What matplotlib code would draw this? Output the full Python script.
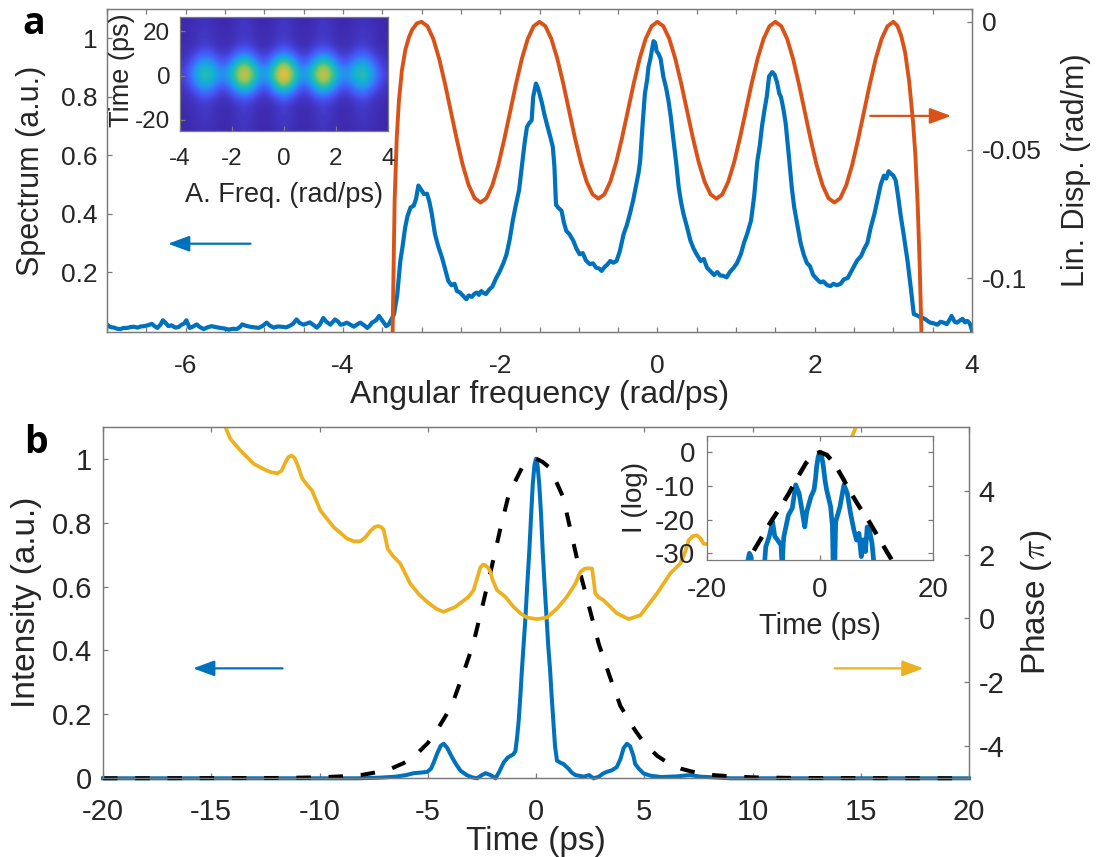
import numpy as np
import matplotlib
matplotlib.use('Agg')
import matplotlib.pyplot as plt
from matplotlib.colors import LinearSegmentedColormap
from matplotlib.ticker import MultipleLocator

plt.rcParams['font.family'] = ['Liberation Sans', 'DejaVu Sans']
plt.rcParams['axes.unicode_minus'] = False
plt.rcParams['mathtext.fontset'] = 'cm'

BLUE = '#0072BD'
RED = '#D95319'
YELLOW = '#EDB120'
SPINE = '#7a7a7a'
TXT = '#262626'

# ---- panel a: measured spectrum (a.u.) vs angular frequency (rad/ps)
spec_freq = [
    -7.00, -6.96, -6.91, -6.87, -6.83, -6.79, -6.74, -6.70, -6.66, -6.61,
    -6.57, -6.53, -6.48, -6.43, -6.40, -6.36, -6.32, -6.29, -6.26, -6.22,
    -6.18, -6.13, -6.09, -6.05, -6.02, -5.99, -5.95, -5.91, -5.86, -5.82,
    -5.77, -5.72, -5.67, -5.62, -5.56, -5.51, -5.45, -5.40, -5.35, -5.31,
    -5.28, -5.23, -5.18, -5.12, -5.07, -5.02, -4.97, -4.93, -4.88, -4.83,
    -4.78, -4.72, -4.67, -4.63, -4.59, -4.55, -4.50, -4.46, -4.42, -4.37,
    -4.33, -4.29, -4.25, -4.21, -4.16, -4.13, -4.10, -4.06, -4.03, -3.99,
    -3.95, -3.90, -3.86, -3.82, -3.78, -3.73, -3.69, -3.66, -3.63, -3.58,
    -3.54, -3.51, -3.48, -3.45, -3.42, -3.38, -3.35,
    -3.31, -3.27, -3.24, -3.21, -3.18, -3.14, -3.10, -3.07, -3.04, -3.00,
    -2.97, -2.93, -2.90, -2.87, -2.83, -2.79, -2.74, -2.70, -2.66, -2.62,
    -2.58, -2.55, -2.51, -2.47, -2.43, -2.40, -2.36, -2.33, -2.30, -2.27,
    -2.24, -2.21, -2.18, -2.14, -2.10, -2.05, -2.01, -1.96, -1.92, -1.88,
    -1.84, -1.80, -1.76, -1.72, -1.69, -1.66, -1.63, -1.60, -1.58, -1.545,
    -1.52, -1.50, -1.47, -1.44, -1.40, -1.36, -1.33, -1.31, -1.29, -1.26,
    -1.22, -1.19, -1.16, -1.12, -1.07, -1.03, -0.99, -0.95, -0.91, -0.86,
    -0.82, -0.78, -0.74, -0.71, -0.67, -0.64, -0.60, -0.56, -0.52, -0.48,
    -0.43, -0.39, -0.35, -0.31, -0.27, -0.24, -0.22, -0.19, -0.16, -0.13,
    -0.115, -0.09, -0.07, -0.05, -0.03, -0.01, 0.013, 0.04, 0.076, 0.11,
    0.14, 0.17, 0.20, 0.24, 0.27, 0.30, 0.33, 0.37, 0.42, 0.46,
    0.50, 0.55, 0.59, 0.63, 0.67, 0.72, 0.76, 0.80, 0.84, 0.88,
    0.92, 0.97, 1.01, 1.06, 1.10, 1.14, 1.19, 1.23, 1.27, 1.30,
    1.33, 1.36, 1.39, 1.42, 1.46, 1.49, 1.52, 1.55, 1.57, 1.60,
    1.63, 1.67, 1.71, 1.74, 1.78, 1.82, 1.86, 1.90, 1.94, 1.98,
    2.03, 2.07, 2.11, 2.16, 2.20, 2.24, 2.28, 2.33, 2.37, 2.42,
    2.46, 2.50, 2.54, 2.59, 2.63, 2.67, 2.71, 2.76, 2.80, 2.84,
    2.88, 2.91, 2.94, 2.97, 3.00, 3.03, 3.06, 3.09, 3.13, 3.18,
    3.22, 3.26, 3.30, 3.35, 3.40, 3.44, 3.47, 3.51, 3.56, 3.60,
    3.64, 3.68, 3.71, 3.74, 3.78, 3.81, 3.85, 3.88, 3.91, 3.94,
    3.97, 3.99, 4.00]
spec_val = [
    0.021, 0.012, 0.010, 0.006, 0.005, 0.009, 0.009, 0.012, 0.013, 0.010,
    0.014, 0.015, 0.018, 0.023, 0.016, 0.009, 0.020, 0.035, 0.028, 0.015,
    0.018, 0.010, 0.012, 0.020, 0.024, 0.035, 0.009, 0.013, 0.021, 0.012,
    0.005, 0.011, 0.015, 0.012, 0.009, 0.007, 0.003, 0.006, 0.005, 0.012,
    0.021, 0.016, 0.013, 0.011, 0.009, 0.016, 0.027, 0.017, 0.010, 0.014,
    0.013, 0.011, 0.017, 0.024, 0.038, 0.026, 0.020, 0.024, 0.028, 0.018,
    0.010, 0.022, 0.043, 0.030, 0.020, 0.029, 0.038, 0.030, 0.020, 0.022,
    0.027, 0.019, 0.013, 0.021, 0.027, 0.018, 0.009, 0.016, 0.027, 0.035,
    0.050, 0.038, 0.027, 0.015, 0.020, 0.040, 0.056,
    0.12, 0.238, 0.29, 0.35, 0.39, 0.421, 0.427, 0.45, 0.496, 0.48,
    0.467, 0.468, 0.44, 0.40, 0.331, 0.29, 0.25, 0.21, 0.17, 0.155,
    0.16, 0.135, 0.13, 0.118, 0.107, 0.12, 0.115, 0.125, 0.13, 0.122,
    0.135, 0.128, 0.125, 0.14, 0.15, 0.18, 0.20, 0.23, 0.26, 0.31,
    0.376, 0.43, 0.48, 0.57, 0.64, 0.696, 0.71, 0.719, 0.80, 0.845,
    0.83, 0.81, 0.78, 0.742, 0.70, 0.66, 0.627, 0.56, 0.43, 0.42,
    0.41, 0.37, 0.341, 0.33, 0.307, 0.28, 0.261, 0.265, 0.24, 0.227,
    0.23, 0.215, 0.212, 0.204, 0.218, 0.225, 0.238, 0.232, 0.238, 0.27,
    0.33, 0.36, 0.40, 0.444, 0.50, 0.54, 0.58, 0.70, 0.81, 0.86,
    0.90, 0.93, 0.959, 0.99, 0.985, 0.955, 0.947, 0.93, 0.867, 0.83,
    0.787, 0.73, 0.66, 0.57, 0.49, 0.44, 0.40, 0.36, 0.307, 0.28,
    0.26, 0.238, 0.245, 0.215, 0.204, 0.19, 0.20, 0.188, 0.187, 0.182,
    0.20, 0.215, 0.23, 0.261, 0.30, 0.33, 0.376, 0.46, 0.58, 0.63,
    0.70, 0.753, 0.80, 0.87, 0.884, 0.875, 0.85, 0.81, 0.80, 0.76,
    0.71, 0.60, 0.484, 0.42, 0.36, 0.30, 0.26, 0.231, 0.22, 0.19,
    0.175, 0.165, 0.168, 0.155, 0.152, 0.16, 0.155, 0.16, 0.175, 0.18,
    0.20, 0.22, 0.24, 0.255, 0.28, 0.30, 0.35, 0.40, 0.45, 0.50,
    0.53, 0.52, 0.545, 0.536, 0.53, 0.513, 0.46, 0.399, 0.33, 0.239,
    0.15, 0.056, 0.052, 0.045, 0.040, 0.032, 0.027, 0.025, 0.020, 0.030,
    0.027, 0.022, 0.035, 0.050, 0.030, 0.027, 0.035, 0.040, 0.028, 0.033,
    0.025, 0.010, 0.0]

# ---- panel a: linear dispersion (rad/m)
disp_freq = [
    -3.37, -3.355, -3.342, -3.315, -3.287, -3.25, -3.206, -3.16, -3.12, -3.06,
    -3.0, -2.925, -2.85, -2.775, -2.7, -2.625, -2.55, -2.475, -2.4, -2.325,
    -2.25, -2.175, -2.1, -2.025, -1.95, -1.875, -1.8, -1.725, -1.65, -1.575,
    -1.5, -1.425, -1.35, -1.275, -1.2, -1.125, -1.05, -0.975, -0.9, -0.825,
    -0.75, -0.675, -0.6, -0.525, -0.45, -0.375, -0.3, -0.225, -0.15, -0.075,
    0.0, 0.075, 0.15, 0.225, 0.3, 0.375, 0.45, 0.525, 0.6, 0.675,
    0.75, 0.825, 0.9, 0.975, 1.05, 1.125, 1.2, 1.275, 1.35, 1.425,
    1.5, 1.575, 1.65, 1.725, 1.8, 1.875, 1.95, 2.025, 2.1, 2.175,
    2.25, 2.325, 2.4, 2.475, 2.55, 2.625, 2.7, 2.775, 2.85, 2.925,
    3.0, 3.05, 3.1, 3.15, 3.2, 3.25, 3.28, 3.31, 3.335, 3.36]
disp_val = [
    -0.125, -0.095, -0.0695, -0.045, -0.0305, -0.019, -0.0109, -0.006, -0.0031, -0.0006,
    0.0, -0.0017, -0.0067, -0.0145, -0.0244, -0.0353, -0.0461, -0.0560, -0.0638, -0.0688,
    -0.0705, -0.0688, -0.0638, -0.0560, -0.0461, -0.0353, -0.0244, -0.0145, -0.0067, -0.0017,
    0.0, -0.0017, -0.0066, -0.0142, -0.0238, -0.0345, -0.0452, -0.0548, -0.0624, -0.0673,
    -0.069, -0.0673, -0.0624, -0.0548, -0.0452, -0.0345, -0.0238, -0.0142, -0.0066, -0.0017,
    0.0, -0.0017, -0.0066, -0.0142, -0.0238, -0.0345, -0.0452, -0.0548, -0.0624, -0.0673,
    -0.069, -0.0673, -0.0624, -0.0548, -0.0452, -0.0345, -0.0238, -0.0142, -0.0066, -0.0017,
    0.0, -0.0017, -0.0067, -0.0145, -0.0244, -0.0353, -0.0461, -0.0560, -0.0638, -0.0688,
    -0.0705, -0.0688, -0.0638, -0.0560, -0.0461, -0.0353, -0.0244, -0.0145, -0.0067, -0.0017,
    0.0, -0.0015, -0.0055, -0.012, -0.023, -0.039, -0.052, -0.072, -0.095, -0.125]

# ---- panel a inset: spectrogram, rows = time 24.5 ... -23 ps, cols = freq -3.8 ... 3.8
spectrogram = [
    [.01, .02, .04, .02, .01, .02, .05, .02, .01, .02, .05, .02, .01, .02, .05, .02, .01, .02, .04, .02, .01],
    [.01, .03, .05, .03, .01, .03, .06, .03, .01, .03, .06, .03, .01, .03, .06, .03, .01, .03, .05, .03, .01],
    [.01, .03, .06, .03, .01, .03, .07, .03, .01, .03, .07, .03, .01, .03, .07, .03, .01, .03, .06, .03, .01],
    [.02, .04, .09, .05, .02, .06, .12, .06, .02, .06, .13, .06, .02, .06, .12, .06, .02, .05, .09, .04, .02],
    [.03, .10, .24, .13, .05, .18, .34, .18, .05, .19, .37, .19, .05, .18, .34, .18, .05, .13, .24, .10, .03],
    [.05, .22, .44, .29, .13, .40, .70, .40, .13, .42, .78, .42, .13, .40, .70, .40, .13, .29, .44, .22, .05],
    [.08, .31, .55, .40, .25, .55, .84, .55, .25, .58, .92, .58, .25, .55, .84, .55, .25, .40, .55, .31, .08],
    [.05, .22, .44, .29, .13, .41, .72, .41, .13, .43, .80, .43, .13, .41, .72, .41, .13, .29, .44, .22, .05],
    [.03, .10, .24, .13, .05, .18, .35, .18, .05, .19, .39, .19, .05, .18, .35, .18, .05, .13, .24, .10, .03],
    [.02, .04, .09, .05, .02, .06, .12, .06, .02, .06, .13, .06, .02, .06, .12, .06, .02, .05, .09, .04, .02],
    [.01, .03, .06, .03, .01, .03, .07, .03, .01, .03, .07, .03, .01, .03, .07, .03, .01, .03, .06, .03, .01],
    [.01, .03, .05, .03, .01, .03, .06, .03, .01, .03, .06, .03, .01, .03, .06, .03, .01, .03, .05, .03, .01],
    [.01, .02, .04, .02, .01, .02, .05, .02, .01, .02, .05, .02, .01, .02, .05, .02, .01, .02, .04, .02, .01],
]

# ---- panel b: temporal intensity, transform-limited envelope, phase
int_time = [-20, -10, -8.2, -7.2, -6.5, -6.0, -5.65, -5.3, -5.03, -4.85,
            -4.72, -4.55, -4.4, -4.26, -4.1, -3.95, -3.88, -3.7, -3.49, -3.2,
            -2.95, -2.72, -2.5, -2.33, -2.1, -1.87, -1.7, -1.49, -1.3, -1.18,
            -1.05, -0.95, -0.87, -0.80, -0.72, -0.65, -0.57, -0.49, -0.40, -0.31,
            -0.22, -0.15, -0.07, 0, 0.07, 0.15, 0.23, 0.31, 0.40, 0.49,
            0.57, 0.65, 0.72, 0.80, 0.88, 0.97, 1.1, 1.28, 1.5, 1.65,
            1.82, 2.0, 2.2, 2.45, 2.66, 2.9, 3.1, 3.27, 3.5, 3.73,
            3.9, 4.05, 4.2, 4.35, 4.5, 4.58, 4.75, 4.97, 5.3, 5.8,
            6.5, 7.1, 7.6, 8.2, 9, 20]
int_val = [0, 0, 0, 0.002, 0.005, 0.01, 0.016, 0.018, 0.02, 0.03,
           0.05, 0.08, 0.102, 0.108, 0.095, 0.075, 0.066, 0.045, 0.024, 0.01,
           0.003, 0.0, 0.01, 0.016, 0.01, 0.0, 0.02, 0.05, 0.065, 0.07,
           0.075, 0.085, 0.13, 0.18, 0.26, 0.34, 0.42, 0.5, 0.61, 0.71,
           0.83, 0.92, 0.98, 1.0, 0.98, 0.92, 0.83, 0.71, 0.6, 0.5,
           0.41, 0.34, 0.26, 0.18, 0.1, 0.055, 0.05, 0.044, 0.03, 0.018,
           0.01, 0.008, 0.005, 0.01, 0.0, 0.005, 0.015, 0.02, 0.025, 0.035,
           0.06, 0.095, 0.108, 0.1, 0.07, 0.045, 0.03, 0.015, 0.008, 0.004,
           0.006, 0.01, 0.005, 0.003, 0, 0]

env_time = [-20, -12, -10, -9, -8, -7.2, -6.7, -6.1, -5.6, -5.0,
            -4.55, -3.9, -3.4, -2.9, -2.4, -2.05, -1.65, -1.25, -0.66, -0.3,
            0,
            0.3, 0.66, 1.25, 1.65, 2.05, 2.4, 2.9, 3.4, 3.9, 4.55,
            5.0, 5.6, 6.1, 6.7, 7.2, 8.0, 9.0, 10, 12, 20]
env_val = [0, 0.001, 0.003, 0.006, 0.011, 0.021, 0.03, 0.048, 0.07, 0.11,
           0.153, 0.226, 0.32, 0.42, 0.56, 0.66, 0.78, 0.89, 0.97, 0.99,
           1.0,
           0.99, 0.97, 0.88, 0.76, 0.64, 0.55, 0.42, 0.32, 0.226, 0.153,
           0.11, 0.07, 0.048, 0.03, 0.021, 0.011, 0.006, 0.003, 0.001, 0]

ph_time = [-14.5, -14.35, -14.12, -13.66, -13.04, -12.6, -12.27, -11.95, -11.75, -11.6,
           -11.45, -11.3, -11.15, -11.0, -10.81, -10.6, -10.35, -9.96, -9.35, -8.73,
           -8.4, -8.1, -7.85, -7.65, -7.45, -7.3, -7.15, -7.04, -6.95, -6.85,
           -6.6, -6.27, -5.81, -5.4, -5.03, -4.6, -4.27, -3.73, -3.11, -2.88,
           -2.7, -2.57, -2.45, -2.35, -2.2, -2.11, -2.0, -1.80, -1.42, -1.03,
           -0.7, -0.42, 0.05, 0.51, 0.97, 1.43, 1.82, 2.05, 2.25, 2.45,
           2.59, 2.66, 2.74, 2.9, 3.12, 3.74, 4.28, 4.82, 5.59, 6.2,
           6.67, 6.9, 7.05, 7.25, 7.44, 7.6, 7.74, 8.2, 8.8, 9.4,
           10.0, 10.4, 10.9, 11.3, 11.6, 12.0, 13.0, 14.2, 14.6, 14.85,
           15.0]
ph_val = [6.5, 6.0, 5.62, 5.26, 4.84, 4.68, 4.58, 4.54, 4.62, 4.85,
          5.04, 5.1, 5.02, 4.78, 4.4, 4.2, 4.01, 3.38, 2.86, 2.50,
          2.41, 2.42, 2.56, 2.74, 2.86, 2.89, 2.86, 2.78, 2.5, 2.18,
          1.95, 1.72, 1.09, 0.75, 0.52, 0.3, 0.21, 0.36, 0.68, 0.89,
          1.3, 1.6, 1.68, 1.67, 1.58, 1.46, 1.2, 0.885, 0.68, 0.36,
          0.15, 0.03, -0.02, 0.03, 0.31, 0.68, 1.09, 1.46, 1.56, 1.57,
          1.56, 1.2, 0.78, 0.66, 0.57, 0.16, -0.02, 0.10, 0.78, 1.41,
          1.72, 2.1, 2.45, 2.58, 2.60, 2.5, 2.34, 2.3, 2.5, 2.9,
          3.4, 4.0, 4.4, 5.1, 4.9, 4.6, 4.9, 5.3, 5.7, 6.1,
          6.5]

# ---- panel b inset: intensity in log scale (dB)
logi_time = [-13.2, -12.8, -12.5, -12.2, -11.9, -10.2, -9.9, -9.6, -9.0, -8.4,
             -8.0, -7.5, -6.9, -6.7, -6.5, -6.4, -5.6, -4.9, -4.3, -3.7,
             -3.1, -2.7, -2.35, -1.6, -1.06, -0.8, -0.59, -0.3, 0, 0.3,
             0.59, 0.9, 1.18, 1.88, 2.2, 2.4, 2.6, 2.77, 3.53, 4.24,
             4.83, 5.4, 6.0, 6.47, 6.9, 7.3, 7.65, 8.05, 8.35, 8.65,
             9.2, 9.6, 9.9]
logi_val = [-40, -32.5, -30, -31, -40, -40, -35, -28.1, -25.1, -20.7,
            -25, -26.1, -27.6, -34, -27, -25.1, -18.7, -16.6, -9.7, -12.2,
            -18.1, -22.2, -17.7, -13.2, -11.2, -8, -4.2, -1.2, 0, -1.2,
            -4.2, -8.5, -11.2, -16.2, -22, -40, -35, -20.7, -16.2, -9.7,
            -12.2, -18.1, -23.1, -26.1, -24.1, -31, -26, -29.5, -22.2, -22.2,
            -27, -34, -40]
loge_time = [-14, -13, -11.85, -10.3, -8.8, -7, -5.5, -4, -2.5, -1.2, 0,
             1.2, 2.5, 4, 5.5, 7, 8.8, 10.3, 11.85, 13, 14]
loge_val = [-37, -32.8, -29.6, -25.2, -20.9, -16.3, -12.2, -7.6, -3.3, -0.8, 0,
            -0.8, -3.3, -7.6, -12.2, -16.3, -20.9, -25.2, -29.6, -32.8, -37]

# approximate MATLAB parula
parula = LinearSegmentedColormap.from_list('parula', [
    (0.000, (0.2422, 0.1504, 0.6603)),
    (0.125, (0.2810, 0.3228, 0.9579)),
    (0.250, (0.1786, 0.5289, 0.9682)),
    (0.375, (0.0689, 0.6948, 0.8394)),
    (0.500, (0.1900, 0.7500, 0.6300)),
    (0.625, (0.5500, 0.7800, 0.3500)),
    (0.750, (0.8700, 0.7400, 0.2600)),
    (0.850, (0.9900, 0.7400, 0.2400)),
    (1.000, (0.9769, 0.9839, 0.0805))])


def style(ax, size):
    for s in ax.spines.values():
        s.set_color(SPINE)
        s.set_linewidth(0.9)
    ax.tick_params(which='both', direction='in', color=SPINE, width=0.9,
                   length=3.6, labelsize=size, labelcolor=TXT)


W, H = 1097, 857
fig = plt.figure(figsize=(W / 100, H / 100), dpi=100)

# ================= panel a =================
axa = fig.add_axes([107 / W, 1 - 332 / H, 865 / W, 323 / H])
axa2 = axa.twinx()
axa.plot(spec_freq, spec_val, color=BLUE, lw=3.0)
axa2.plot(disp_freq, disp_val, color=RED, lw=2.8)

axa.set_xlim(-7, 4)
axa.set_ylim(-0.005, 1.1)
axa2.set_ylim(-0.121, 0.005)
axa.set_xticks([-6, -4, -2, 0, 2, 4])
axa.set_xticklabels(['-6', '-4', '-2', '0', '2', '4'])
axa.xaxis.set_minor_locator(MultipleLocator(0.5))
axa.set_yticks([0.2, 0.4, 0.6, 0.8, 1.0])
axa.set_yticklabels(['0.2', '0.4', '0.6', '0.8', '1'])
axa2.set_yticks([-0.1, -0.05, 0])
axa2.set_yticklabels(['-0.1', '-0.05', '0'])
style(axa, 19)
style(axa2, 19)
axa.tick_params(axis='x', which='both', top=True, pad=16)
axa.tick_params(axis='y', which='both', right=False, pad=7)
axa2.tick_params(axis='y', which='both', left=False, right=True, pad=7)

axa.set_xlabel('Angular frequency (rad/ps)', fontsize=23, color=TXT, va='top')
axa.xaxis.set_label_coords(0.5, -0.150)
axa.set_ylabel('Spectrum (a.u.)', fontsize=22, color=TXT, va='center')
axa.yaxis.set_label_coords(-0.088, 0.5)
axa2.set_ylabel('Lin. Disp. (rad/m)', fontsize=22, color=TXT, va='center', rotation=90)
axa2.yaxis.set_label_coords(1.120, 0.5)

arrow = '-|>,head_length=0.65,head_width=0.24'
axa.annotate('', xy=(-6.26, 0.297), xytext=(-5.14, 0.297),
             arrowprops=dict(arrowstyle=arrow, color=BLUE, lw=1.6, mutation_scale=20))
axa2.annotate('', xy=(3.77, -0.0367), xytext=(2.67, -0.0367),
              arrowprops=dict(arrowstyle=arrow, color=RED, lw=1.6, mutation_scale=20))

# inset a: spectrogram
axi = fig.add_axes([180 / W, 1 - 131 / H, 208 / W, 114 / H])
axi.imshow(spectrogram, cmap=parula, vmin=0, vmax=1, aspect='auto',
           interpolation='bicubic', extent=[-4, 4, -25, 26.5])
axi.set_xticks([-4, -2, 0, 2, 4])
axi.set_xticklabels(['-4', '-2', '0', '2', '4'])
axi.set_yticks([-20, 0, 20])
axi.set_yticklabels(['-20', '0', '20'])
style(axi, 17.5)
axi.tick_params(axis='x', pad=12)
axi.tick_params(axis='y', pad=7)
axi.set_xlabel('A. Freq. (rad/ps)', fontsize=19.5, color=TXT, va='top')
axi.xaxis.set_label_coords(0.5, -0.445)
axi.set_ylabel('Time (ps)', fontsize=19.5, color=TXT, va='center')
axi.yaxis.set_label_coords(-0.281, 0.53)

# ================= panel b =================
axb = fig.add_axes([103 / W, 1 - 778.3 / H, 866 / W, 351.6 / H])
axb2 = axb.twinx()
axb.plot(int_time, int_val, color=BLUE, lw=2.9, clip_on=False)
axb.plot(env_time, env_val, color='black', lw=2.9, ls=(0, (3.6, 4.4)), clip_on=False)
axb2.plot(ph_time, ph_val, color=YELLOW, lw=2.7)

axb.set_xlim(-20, 20)
axb.set_ylim(0, 1.1)
axb2.set_ylim(-5, 6)
axb.set_xticks([-20, -15, -10, -5, 0, 5, 10, 15, 20])
axb.set_xticklabels(['-20', '-15', '-10', '-5', '0', '5', '10', '15', '20'])
axb.set_yticks([0, 0.2, 0.4, 0.6, 0.8, 1.0])
axb.set_yticklabels(['0', '0.2', '0.4', '0.6', '0.8', '1'])
axb2.set_yticks([-4, -2, 0, 2, 4])
axb2.set_yticklabels(['-4', '-2', '0', '2', '4'])
style(axb, 21)
style(axb2, 21)
axb.tick_params(axis='x', top=True, pad=14)
axb.tick_params(axis='y', right=False, pad=8)
axb2.tick_params(axis='y', left=False, right=True, pad=7)

axb.set_xlabel('Time (ps)', fontsize=24, color=TXT, va='top')
axb.xaxis.set_label_coords(0.5, -0.137)
axb.set_ylabel('Intensity (a.u.)', fontsize=24, color=TXT, va='center')
axb.yaxis.set_label_coords(-0.088, 0.5)
axb2.set_ylabel(r'Phase ($\pi$)', fontsize=24, color=TXT, va='center', rotation=90)
axb2.yaxis.set_label_coords(1.0774, 0.5)

axb.annotate('', xy=(-15.97, 0.344), xytext=(-11.58, 0.344),
             arrowprops=dict(arrowstyle=arrow, color=BLUE, lw=1.6, mutation_scale=20))
axb2.annotate('', xy=(18.03, -1.56), xytext=(13.67, -1.56),
              arrowprops=dict(arrowstyle=arrow, color=YELLOW, lw=1.6, mutation_scale=20))

# inset b: log intensity
axl = fig.add_axes([707 / W, 1 - 560 / H, 226 / W, 124 / H])
axl.set_facecolor('white')
axl.plot(logi_time, logi_val, color=BLUE, lw=3.4)
axl.plot(loge_time, loge_val, color='black', lw=3.2, ls=(0, (3.6, 3.0)))
axl.set_xlim(-20, 20)
axl.set_ylim(-32, 4.8)
axl.set_xticks([-20, 0, 20])
axl.set_xticklabels(['-20', '0', '20'])
axl.set_yticks([-30, -20, -10, 0])
axl.set_yticklabels(['-30', '-20', '-10', '0'])
style(axl, 20)
axl.tick_params(top=True, right=True)
axl.tick_params(axis='x', pad=12)
axl.tick_params(axis='y', pad=8.5)
axl.set_xlabel('Time (ps)', fontsize=21, color=TXT, va='top')
axl.xaxis.set_label_coords(0.5, -0.417)
axl.set_ylabel('I (log)', fontsize=20, color=TXT, va='center')
axl.yaxis.set_label_coords(-0.319, 0.504)

# panel letters
fig.text(34 / W, 1 - 24 / H, 'a', fontsize=27, fontweight='bold', ha='center', va='center',
         family=['Open Sans', 'DejaVu Sans'])
fig.text(36 / W, 1 - 443 / H, 'b', fontsize=27, fontweight='bold', ha='center', va='center',
         family=['Open Sans', 'DejaVu Sans'])

fig.savefig('out.png', dpi=100)
